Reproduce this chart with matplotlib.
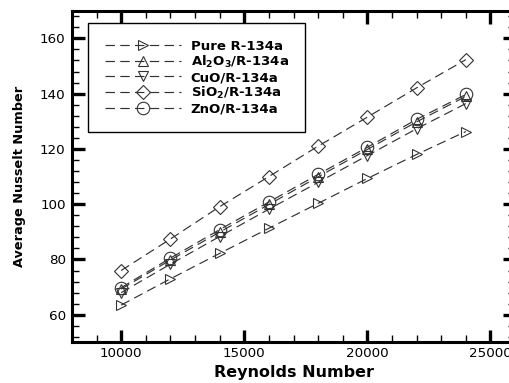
import matplotlib
matplotlib.use("Agg")
import matplotlib.pyplot as plt
from matplotlib.ticker import MultipleLocator

plt.rcParams["font.family"] = "DejaVu Sans"
plt.rcParams["mathtext.fontset"] = "custom"
plt.rcParams["mathtext.bf"] = "DejaVu Sans:bold"
plt.rcParams["mathtext.rm"] = "DejaVu Sans:bold"
plt.rcParams["mathtext.default"] = "bf"

reynolds = [10000, 12000, 14000, 16000, 18000, 20000, 22000, 24000]
nu_pure = [63.5, 73.0, 82.2, 91.3, 100.3, 109.3, 118.0, 126.3]
nu_al2o3 = [69.3, 79.8, 89.9, 99.9, 109.9, 119.8, 129.8, 139.0]
nu_cuo = [68.0, 78.3, 88.3, 98.2, 107.9, 117.6, 127.3, 136.4]
nu_sio2 = [76.0, 87.4, 99.1, 110.0, 121.0, 131.5, 142.1, 152.3]
nu_zno = [69.8, 80.5, 90.8, 100.8, 110.8, 120.6, 130.7, 139.7]

labels = ["Pure R-134a", "Al$_2$O$_3$/R-134a", "CuO/R-134a",
          "SiO$_2$/R-134a", "ZnO/R-134a"]
series = [nu_pure, nu_al2o3, nu_cuo, nu_sio2, nu_zno]
markers = [">", "^", "v", "D", "o"]
sizes = [7.5, 7.5, 7.5, 7, 9]

fig = plt.figure(figsize=(5.10, 3.83), dpi=100)
ax = fig.add_axes([0.141, 0.106, 1.01 - 0.141, 0.972 - 0.106])

for y, lab, m, s in zip(series, labels, markers, sizes):
    ax.plot(reynolds, y, linestyle=(0, (8, 4.5)), color="#333333", linewidth=0.85,
            marker=m, markersize=s, markerfacecolor="none",
            markeredgecolor="#333333", markeredgewidth=0.8, label=lab)

ax.set_xlim(8000, 26000)
ax.set_ylim(50, 170)
ax.xaxis.set_major_locator(MultipleLocator(5000))
ax.xaxis.set_minor_locator(MultipleLocator(1000))
ax.yaxis.set_major_locator(MultipleLocator(20))
ax.yaxis.set_minor_locator(MultipleLocator(4))

for sp in ax.spines.values():
    sp.set_linewidth(2.2)
ax.tick_params(which="both", direction="in", top=True, right=True,
               labelsize=9.7)
ax.tick_params(axis="x", pad=3)
ax.tick_params(axis="y", pad=4.5)
ax.tick_params(which="major", length=9, width=2.4)
ax.tick_params(which="minor", length=5, width=1.0)

ax.set_xlabel("Reynolds Number", fontsize=11.5, fontweight="bold", labelpad=4)
ax.set_ylabel("Average Nusselt Number", fontsize=9.3, fontweight="bold", labelpad=10)

leg = ax.legend(loc="upper left", bbox_to_anchor=(0.037, 0.962),
                fancybox=False, framealpha=1, edgecolor="black",
                handlelength=5.8, handletextpad=0.7, labelspacing=0.08,
                borderpad=1.25, borderaxespad=0,
                prop={"weight": "bold", "size": 9.5})
leg.get_frame().set_linewidth(1.0)

fig.savefig("out.png", dpi=100)
